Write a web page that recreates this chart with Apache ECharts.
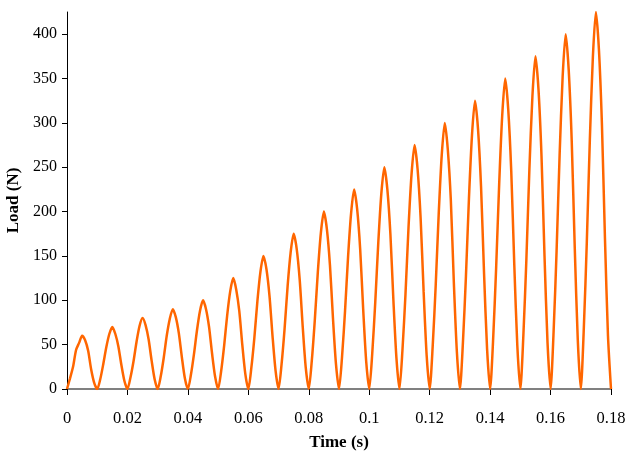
<!DOCTYPE html>
<html>
<head>
<meta charset="utf-8">
<script src="https://cdn.jsdelivr.net/npm/echarts@6/dist/echarts.min.js"></script>
<style>html,body{margin:0;padding:0;background:#fff}#c{width:627px;height:451px}</style>
</head>
<body>
<div id="c"></div>
<script>
const time = [
  0.000,0.001,0.002,0.003,0.004,0.005,0.006,0.007,0.008,0.009,
  0.010,0.011,0.012,0.013,0.014,0.015,0.016,0.017,0.018,0.019,
  0.020,0.021,0.022,0.023,0.024,0.025,0.026,0.027,0.028,0.029,
  0.030,0.031,0.032,0.033,0.034,0.035,0.036,0.037,0.038,0.039,
  0.040,0.041,0.042,0.043,0.044,0.045,0.046,0.047,0.048,0.049,
  0.050,0.051,0.052,0.053,0.054,0.055,0.056,0.057,0.058,0.059,
  0.060,0.061,0.062,0.063,0.064,0.065,0.066,0.067,0.068,0.069,
  0.070,0.071,0.072,0.073,0.074,0.075,0.076,0.077,0.078,0.079,
  0.080,0.081,0.082,0.083,0.084,0.085,0.086,0.087,0.088,0.089,
  0.090,0.091,0.092,0.093,0.094,0.095,0.096,0.097,0.098,0.099,
  0.100,0.101,0.102,0.103,0.104,0.105,0.106,0.107,0.108,0.109,
  0.110,0.111,0.112,0.113,0.114,0.115,0.116,0.117,0.118,0.119,
  0.120,0.121,0.122,0.123,0.124,0.125,0.126,0.127,0.128,0.129,
  0.130,0.131,0.132,0.133,0.134,0.135,0.136,0.137,0.138,0.139,
  0.140,0.141,0.142,0.143,0.144,0.145,0.146,0.147,0.148,0.149,
  0.150,0.151,0.152,0.153,0.154,0.155,0.156,0.157,0.158,0.159,
  0.160,0.161,0.162,0.163,0.164,0.165,0.166,0.167,0.168,0.169,
  0.170,0.171,0.172,0.173,0.174,0.175,0.176,0.177,0.178,0.179,
  0.180
];
const load = [
  0,12,25,44,52,60,55,43,22,7,
  0,11,28,47,62,70,62,48,27,9,
  0,13,31,53,71,80,72,56,32,11,
  0,14,35,60,79,90,81,63,36,12,
  0,16,39,66,88,100,90,70,40,14,
  0,20,49,83,110,125,112,88,50,17,
  0,24,58,99,132,150,135,105,60,21,
  0,28,68,116,154,175,158,123,70,24,
  0,32,78,132,176,200,180,140,80,28,
  0,36,88,149,198,225,203,158,90,31,
  0,40,98,165,220,250,225,175,100,35,
  0,44,107,182,242,275,248,193,110,38,
  0,48,117,198,264,300,270,213,120,42,
  0,52,127,215,286,325,293,228,130,45,
  0,56,137,231,308,350,315,245,140,49,
  0,60,146,248,330,375,338,263,150,52,
  0,64,156,264,352,400,360,280,160,56,
  0,68,166,281,374,425,383,298,170,60,
  0
];
const xTitle = 'Time (s)';
const yTitle = 'Load (N)';

const chart = echarts.init(document.getElementById('c'), null, {renderer:'canvas'});
const font = '"Liberation Serif","Times New Roman",serif';
chart.setOption({
  animation: false,
  grid: {left: 67, right: 16, top: 12, bottom: 62, containLabel: false, outerBoundsMode: 'none'},
  xAxis: {
    type: 'value', min: 0, max: 0.18, interval: 0.02,
    name: xTitle, nameLocation: 'middle', nameGap: 45,
    nameTextStyle: {fontFamily: font, fontSize: 17, fontWeight: 'bold', color: '#000'},
    axisLine: {show: true, lineStyle: {color: '#808080', width: 2}},
    axisTick: {show: true, inside: false, length: 6, lineStyle: {color: '#000', width: 1, type: 'solid'}},
    axisLabel: {fontFamily: font, fontSize: 16.5, color: '#000', margin: 21},
    splitLine: {show: false}
  },
  yAxis: {
    type: 'value', min: 0, max: 425, interval: 50,
    name: yTitle, nameLocation: 'middle', nameGap: 41,
    nameTextStyle: {fontFamily: font, fontSize: 17, fontWeight: 'bold', color: '#000'},
    axisLine: {show: true, lineStyle: {color: '#000', width: 1}},
    axisTick: {show: true, inside: false, length: 5, lineStyle: {color: '#000', width: 1, type: 'solid'}},
    axisLabel: {fontFamily: font, fontSize: 16, color: '#000', margin: 10, showMaxLabel: false},
    splitLine: {show: false}
  },
  series: [{
    type: 'line',
    data: time.map((t, i) => [t, load[i]]),
    showSymbol: false,
    smooth: 0.25,
    lineStyle: {color: '#FF6600', width: 2.5},
    z: 1
  }]
});
</script>
</body>
</html>
